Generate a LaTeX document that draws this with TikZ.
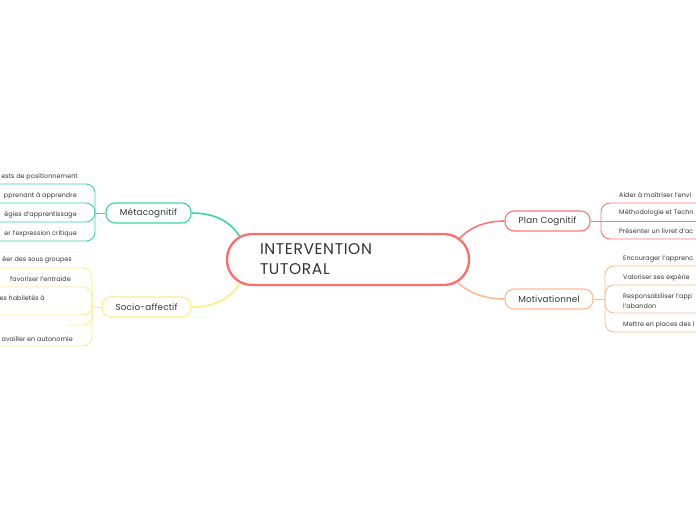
\documentclass[tikz,border=0pt]{standalone}
\usepackage{fontspec}
\setmainfont{Poppins}
\definecolor{cred}{RGB}{255,108,108}
\definecolor{cteal}{RGB}{62,212,160}
\definecolor{cyel}{RGB}{255,236,135}
\definecolor{cplan}{RGB}{255,118,118}
\definecolor{corg}{RGB}{255,188,145}
\definecolor{txtc}{RGB}{51,51,51}
\begin{document}
\begin{tikzpicture}[x=1pt,y=-1pt,
  leaftxt/.style={text=txtc, font=\fontsize{6.4}{10}\selectfont\addfontfeatures{LetterSpace=1}, inner sep=0pt, align=left},
  branch/.style={draw=#1, line width=1.1pt, rounded corners=9pt, minimum height=20pt, fill=white, font=\fontsize{8.8}{10}\selectfont\addfontfeatures{LetterSpace=2}, text=txtc, inner sep=0pt},
  conn/.style={draw=#1, line width=1.6pt},
  leafline/.style={draw=#1, line width=0.9pt, rounded corners=9pt},
]
\useasboundingbox (0,0) rectangle (696,520);
\fill[white] (0,0) rectangle (696,520);

% central node
\node[draw=cred, line width=2.3pt, rounded corners=25pt, minimum height=51pt, text width=176pt, inner xsep=33pt, align=left, font=\fontsize{15.5}{20}\selectfont\addfontfeatures{LetterSpace=4}, text=txtc] (c) at (348,259.5) {INTERVENTION\\TUTORAL};

% main branches
\node[branch=cteal, minimum width=85pt] (meta) at (148.5,213) {Métacognitif};
\node[branch=cyel, minimum width=89pt] (socio) at (146.5,307) {Socio-affectif};
\node[branch=cplan, minimum width=85pt] (plan) at (547.5,221) {Plan Cognitif};
\node[branch=corg, minimum width=88pt] (motiv) at (549,299) {Motivationnel};

% attach points on the central node
\coordinate (cm) at (240,237);
\coordinate (cs) at (240,283);
\coordinate (cp) at (458,240);
\coordinate (cmo) at (457,282);

\draw[conn=cteal] (meta.east) .. controls (218,213) and (232,224) .. (cm);
\draw[conn=cyel] (socio.east) .. controls (218,307) and (232,296) .. (cs);
\draw[conn=cplan] (plan.west) .. controls (480,221) and (466,231) .. (cp);
\draw[conn=corg] (motiv.west) .. controls (480,299) and (466,290) .. (cmo);

% junctions
\coordinate (jm) at (95,213);
\coordinate (js) at (92,307);
\coordinate (jp) at (601,221);
\coordinate (jo) at (605,299);
\draw[leafline=cteal] (meta.west) -- (jm);
\draw[leafline=cyel] (socio.west) -- (js);
\draw[leafline=cplan] (plan.east) -- (jp);
\draw[leafline=corg] (motiv.east) -- (jo);

% Metacognitif leaves
\node[leaftxt, anchor=east] (m1) at (78,177) {ests de positionnement};
\node[leaftxt, anchor=east] (m2) at (77,196) {pprenant à apprendre};
\node[leaftxt, anchor=east] (m3) at (77,215) {égies d'apprentissage};
\node[leaftxt, anchor=east] (m4) at (77,234) {er l'expression critique};
\coordinate (em1) at (0,184);
\coordinate (em2) at (0,203);
\coordinate (em3) at (0,222);
\coordinate (em4) at (0,241);
\draw[leafline=cteal] (jm) |- (em1);
\draw[leafline=cteal] (jm) |- (em2);
\draw[leafline=cteal] (jm) |- (em3);
\draw[leafline=cteal] (jm) |- (em4);

% Socio-affectif leaves
\node[leaftxt, anchor=east] (s1) at (72,260) {éer des sous groupes};
\node[leaftxt, anchor=east] (s2) at (71,279) {favoriser l'entraide};
\node[leaftxt, anchor=east] (s3) at (45,298) {es habiletés à};
\node[leaftxt, anchor=east] (s5) at (73,339) {availler en autonomie};
\coordinate (es1) at (0,268);
\coordinate (es2) at (0,287);
\coordinate (es3) at (0,315);
\coordinate (es4) at (67,325);
\coordinate (es5) at (0,346);
\draw[leafline=cyel] (js) |- (es1);
\draw[leafline=cyel] (js) |- (es2);
\draw[leafline=cyel] (js) |- (es3);
\draw[leafline=cyel] (js) |- (es4);
\draw[leafline=cyel] (js) |- (es5);

% Plan Cognitif leaves
\node[leaftxt, anchor=west] (p1) at (619,195) {Aider à maîtriser l'envi};
\node[leaftxt, anchor=west] (p2) at (619,213) {Méthodologie et Techn};
\node[leaftxt, anchor=west] (p3) at (619,231) {Présenter un livret d'ac};
\coordinate (ep1) at (696,203);
\coordinate (ep2) at (696,221);
\coordinate (ep3) at (696,239);
\draw[leafline=cplan] (jp) |- (ep1);
\draw[leafline=cplan] (jp) -- (ep2);
\draw[leafline=cplan] (jp) |- (ep3);

% Motivationnel leaves
\node[leaftxt, anchor=west] (o1) at (623,259) {Encourager l'apprenc};
\node[leaftxt, anchor=west] (o2) at (623,278) {Valoriser ses expérie};
\node[leaftxt, anchor=west] (o3) at (623,301) {Responsabiliser l'app\\l'abandon};
\node[leaftxt, anchor=west] (o4) at (623,325) {Mettre en places des l};
\coordinate (eo1) at (696,266);
\coordinate (eo2) at (696,285);
\coordinate (eo3) at (696,313);
\coordinate (eo4) at (696,332);
\draw[leafline=corg] (jo) |- (eo1);
\draw[leafline=corg] (jo) |- (eo2);
\draw[leafline=corg] (jo) |- (eo3);
\draw[leafline=corg] (jo) |- (eo4);
\end{tikzpicture}
\end{document}
